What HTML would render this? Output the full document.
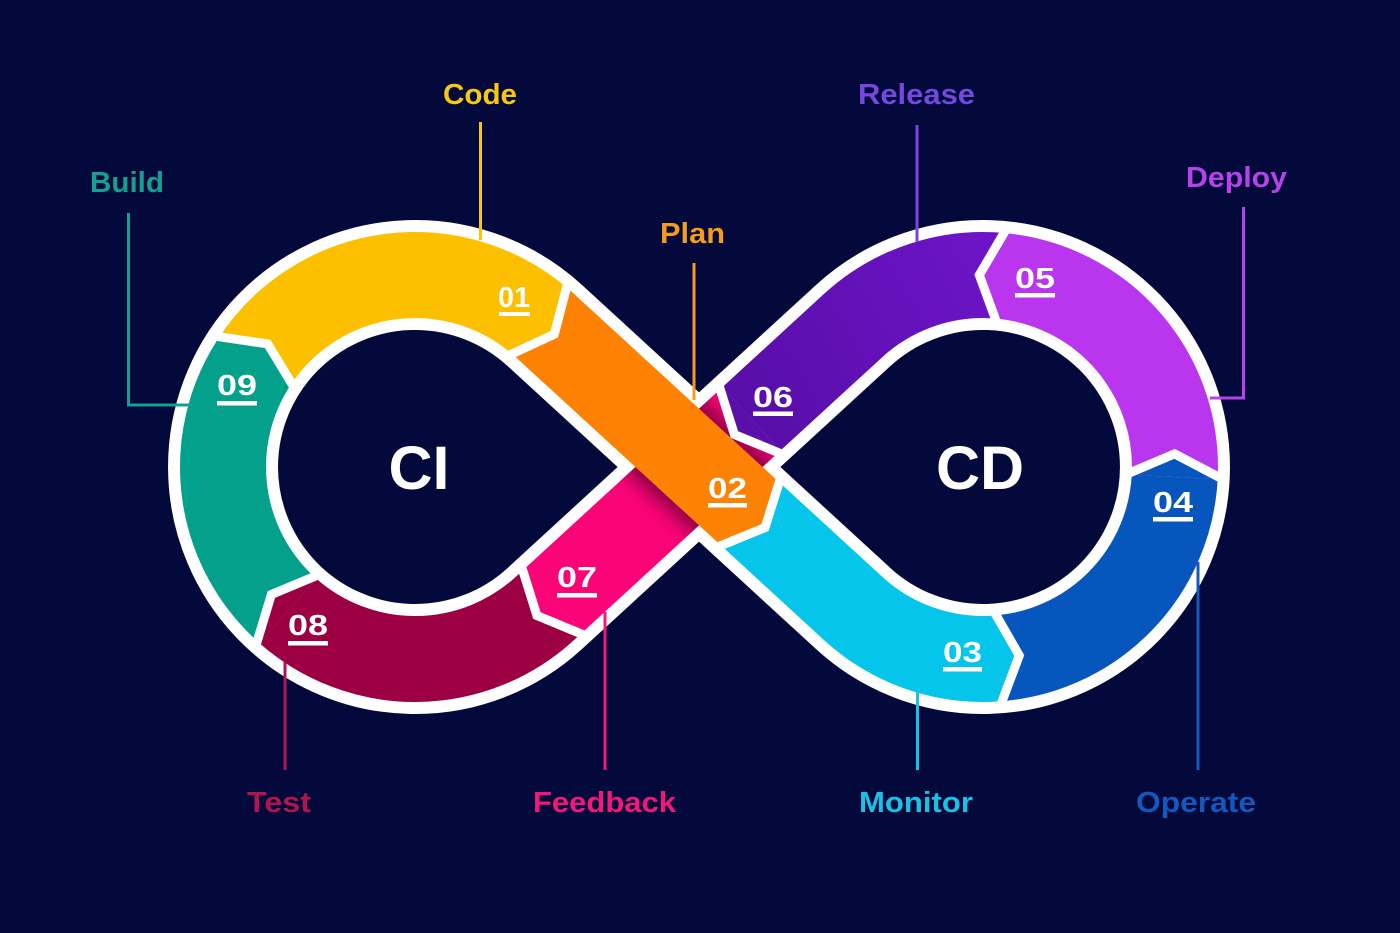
<!DOCTYPE html>
<html><head><meta charset="utf-8"><style>
html,body{margin:0;padding:0;background:#03093a;}
svg{display:block}
text{font-family:"Liberation Sans",Arial,sans-serif;font-weight:bold}
</style></head><body>
<svg width="1400" height="933" viewBox="0 0 1400 933" xmlns="http://www.w3.org/2000/svg">
<defs>
<linearGradient id="g6" gradientUnits="userSpaceOnUse" x1="1000" y1="276" x2="751" y2="419">
<stop offset="0" stop-color="#6c14c6"/><stop offset="1" stop-color="#580ea8"/></linearGradient>
<clipPath id="pinkclip"><polygon points="639.7,579.8 581.5,516.4 758.3,354.2 816.5,417.6"/></clipPath>
<filter id="blur" x="-50%" y="-50%" width="200%" height="200%"><feGaussianBlur stdDeviation="9"/></filter>
</defs>
<rect width="1400" height="933" fill="#03093a"/>

<!-- white base -->
<path d="M544.7,325.4 L853.3,608.6 A192,192 0 1 0 853.3,325.4 L544.7,608.6 A192,192 0 1 1 544.7,325.4 Z" fill="none" stroke="#ffffff" stroke-width="110"/>

<!-- pink under orange -->
<path d="M751.3,419.0 L553.9,600.2" stroke="#fb0477" stroke-width="86" fill="none"/>
<!-- shadow of orange over pink -->
<g clip-path="url(#pinkclip)">
<path d="M625.3,399.4 L772.7,534.6" stroke="#3a0020" stroke-opacity="0.6" stroke-width="104" fill="none" filter="url(#blur)"/>
</g>
<path d="M537.3,318.6 L748.1,512.0" stroke="#fd8204" stroke-width="86" fill="none"/>

<!-- colored segments -->
<g fill="none" stroke-width="86">
<path d="M254.0,362.4 A192,192 0 0 1 537.1,318.9" stroke="#fcc000"/>
<path d="M287.8,610.8 A192,192 0 0 1 254.0,362.4" stroke="#03a08b"/>
<path d="M553.9,600.2 L544.7,608.6 A192,192 0 0 1 287.8,610.8" stroke="#9c0042"/>
<path d="M748.1,512.0 L853.3,608.6 A192,192 0 0 0 996.4,658.5" stroke="#05c6ea"/>
<path d="M996.4,658.5 A192,192 0 0 0 1174.7,477.0" stroke="#0756bd"/>
<path d="M1174.7,477.0 A192,192 0 0 0 1002.4,276.0" stroke="#b935ee"/>
<path d="M1002.4,276.0 A192,192 0 0 0 853.3,325.4 L751.3,419.0" stroke="url(#g6)"/>
</g>

<!-- arrow tips -->
<polygon points="564.5,285.7 554.3,334.2 509.8,352.0" fill="#fcc000"/>
<polygon points="777.2,480.3 765.0,527.6 719.0,543.7" fill="#fd8204"/>
<polygon points="999.4,701.4 1019.3,655.5 993.4,615.6" fill="#05c6ea"/>
<polygon points="1217.7,479.3 1174.6,453.9 1131.8,474.8" fill="#0756bd"/>
<polygon points="1006.8,233.2 979.3,275.0 998.1,318.8" fill="#b935ee"/>
<polygon points="780.4,450.7 734.4,434.5 722.2,387.3" fill="#5a0faa"/>
<polygon points="583.0,631.9 536.9,615.5 524.8,568.5" fill="#fb0477"/>
<polygon points="259.3,643.0 271.4,594.5 316.3,578.6" fill="#9c0042"/>
<polygon points="217.9,339.0 267.7,343.9 290.0,385.9" fill="#03a08b"/>

<!-- white chevrons -->
<g fill="none" stroke="#ffffff" stroke-width="9" stroke-linejoin="miter">
<polyline points="568.3,281.0 554.3,334.2 506.0,356.7"/>
<polyline points="781.2,475.9 765.0,527.6 715.0,548.1"/>
<polyline points="999.8,707.4 1019.3,655.5 993.0,609.7"/>
<polyline points="1223.7,479.6 1174.6,453.9 1125.8,474.5"/>
<polyline points="1007.4,227.2 979.3,275.0 997.5,324.7"/>
<polyline points="784.4,455.1 734.4,434.5 718.2,382.9"/>
<polyline points="587.0,636.3 536.9,615.5 520.8,564.1"/>
<polyline points="255.3,647.5 271.4,594.5 320.2,574.1"/>
<polyline points="212.9,335.8 267.7,343.9 295.1,389.1"/>
</g>

<!-- leader lines -->
<g fill="none" stroke-width="3">
<path d="M480.5,122 V240" stroke="#f7c812"/>
<path d="M128.5,213 V405 H190" stroke="#13a08e"/>
<path d="M694,263 V400" stroke="#f49d1c"/>
<path d="M917,125 V242" stroke="#7448de"/>
<path d="M1243.5,207 V398 H1210" stroke="#b443ea"/>
<path d="M285,662 V770" stroke="#b0164e"/>
<path d="M605,612 V770" stroke="#f2187a"/>
<path d="M917.5,692 V770" stroke="#16c3e6"/>
<path d="M1198,562 V770" stroke="#1657be"/>
</g>

<!-- outer labels -->
<g font-size="29">
<text x="480" y="104" text-anchor="middle" fill="#f7c812" textLength="74" lengthAdjust="spacingAndGlyphs">Code</text>
<text x="127" y="192" text-anchor="middle" fill="#13a08e" textLength="74" lengthAdjust="spacingAndGlyphs">Build</text>
<text x="692.5" y="243" text-anchor="middle" fill="#f49d1c" textLength="65" lengthAdjust="spacingAndGlyphs">Plan</text>
<text x="916.5" y="104" text-anchor="middle" fill="#7448de" textLength="117" lengthAdjust="spacingAndGlyphs">Release</text>
<text x="1236.5" y="187" text-anchor="middle" fill="#b443ea" textLength="101" lengthAdjust="spacingAndGlyphs">Deploy</text>
<text x="279" y="812" text-anchor="middle" fill="#b0164e" textLength="64" lengthAdjust="spacingAndGlyphs">Test</text>
<text x="604.5" y="812" text-anchor="middle" fill="#f2187a" textLength="143" lengthAdjust="spacingAndGlyphs">Feedback</text>
<text x="916" y="812" text-anchor="middle" fill="#16c3e6" textLength="114" lengthAdjust="spacingAndGlyphs">Monitor</text>
<text x="1196" y="812" text-anchor="middle" fill="#1657be" textLength="120" lengthAdjust="spacingAndGlyphs">Operate</text>
</g>

<!-- center labels -->
<text x="419" y="489" text-anchor="middle" fill="#ffffff" font-size="61">CI</text>
<text x="980" y="489" text-anchor="middle" fill="#ffffff" font-size="61">CD</text>

<!-- step numbers -->
<g fill="#ffffff" font-size="29">
<text x="514" y="307" text-anchor="middle" textLength="32" lengthAdjust="spacingAndGlyphs">01</text>
<rect x="499" y="312" width="31" height="4"/>
<text x="727.5" y="498" text-anchor="middle" textLength="39" lengthAdjust="spacingAndGlyphs">02</text>
<rect x="708" y="503" width="39" height="4.5"/>
<text x="962.5" y="662" text-anchor="middle" textLength="39" lengthAdjust="spacingAndGlyphs">03</text>
<rect x="943" y="667" width="39" height="4.5"/>
<text x="1173" y="512" text-anchor="middle" textLength="40" lengthAdjust="spacingAndGlyphs">04</text>
<rect x="1153" y="517" width="40" height="4.5"/>
<text x="1035" y="288" text-anchor="middle" textLength="40" lengthAdjust="spacingAndGlyphs">05</text>
<rect x="1015" y="293" width="40" height="4.5"/>
<text x="773" y="407" text-anchor="middle" textLength="40" lengthAdjust="spacingAndGlyphs">06</text>
<rect x="753" y="411.5" width="40" height="4.5"/>
<text x="577" y="587" text-anchor="middle" textLength="40" lengthAdjust="spacingAndGlyphs">07</text>
<rect x="557" y="593" width="40" height="4.5"/>
<text x="308" y="635" text-anchor="middle" textLength="40" lengthAdjust="spacingAndGlyphs">08</text>
<rect x="288" y="641" width="40" height="4.5"/>
<text x="237" y="395" text-anchor="middle" textLength="40" lengthAdjust="spacingAndGlyphs">09</text>
<rect x="217" y="401" width="40" height="4.5"/>
</g>
</svg>
</body></html>
